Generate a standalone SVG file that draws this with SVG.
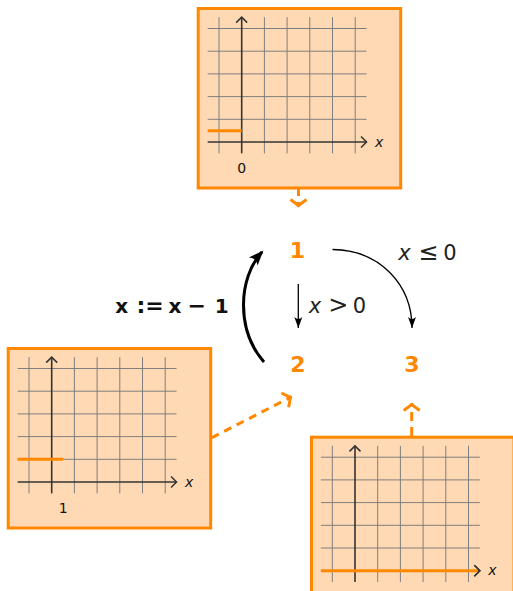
<svg xmlns="http://www.w3.org/2000/svg" xmlns:xlink="http://www.w3.org/1999/xlink" width="513" height="591" viewBox="0 0 513 591">
<style>
.box{fill:#ffd9b3;stroke:#ff8800;stroke-width:3}
.grid{stroke:#7f7f7f;stroke-width:1;fill:none}
.axis{stroke:#333;stroke-width:1.6;fill:none}
.val{stroke:#ff8800;stroke-width:3;fill:none}
.lbl{font-family:"DejaVu Sans",sans-serif;font-size:14px;fill:#111}
.node{font-family:"DejaVu Sans",sans-serif;font-weight:bold;font-size:22px;fill:#ff8800;text-anchor:middle}
.math{font-family:"DejaVu Sans",sans-serif;font-size:21px;fill:#222;text-anchor:middle}
.rel{font-size:24px}
.bmath{font-family:"DejaVu Sans",sans-serif;font-weight:bold;font-size:20px;fill:#111;text-anchor:middle}
.dash{stroke:#ff8800;stroke-width:3;fill:none;stroke-dasharray:8 6}
.edge{stroke:#000;stroke-width:1.3;fill:none}
</style>
<defs>
<marker id="ax" markerUnits="userSpaceOnUse" viewBox="-8 -7 10 14" markerWidth="10" markerHeight="14" refX="0" refY="0" orient="auto">
<path d="M-5.5,-5.5 L0,0 L-5.5,5.5" fill="none" stroke="#333" stroke-width="1.5"/>
</marker>
<marker id="chev" markerUnits="userSpaceOnUse" viewBox="-10 -10 14 20" markerWidth="14" markerHeight="20" refX="0" refY="0" orient="auto">
<path d="M-7.5,-8 L-1.5,0 L-7.5,8" fill="none" stroke="#ff8800" stroke-width="3"/>
</marker>
<marker id="thin" markerUnits="userSpaceOnUse" viewBox="-12 -5 14 10" markerWidth="14" markerHeight="10" refX="0" refY="0" orient="auto">
<path d="M0,0 L-11,-4 Q-7,0 -11,4 Z" fill="#000"/>
</marker>
<marker id="thick" markerUnits="userSpaceOnUse" viewBox="-16 -8 20 16" markerWidth="20" markerHeight="16" refX="0" refY="0" orient="auto">
<path d="M2,0 L-13,-6 Q-8,0 -13,6 Z" fill="#000"/>
</marker>
<g id="plot">
<rect class="box" x="-43.5" y="-133.5" width="202.5" height="179.5"/>
<path class="grid" d="M-22.7,11.35V-124.85M22.7,11.35V-124.85M45.4,11.35V-124.85M68.1,11.35V-124.85M90.8,11.35V-124.85M113.5,11.35V-124.85M-34.05,-22.7H124.85M-34.05,-45.4H124.85M-34.05,-68.1H124.85M-34.05,-90.8H124.85M-34.05,-113.5H124.85"/>
<path class="axis" d="M-34.05,0H124.85" marker-end="url(#ax)"/>
<path class="axis" d="M0,11.35V-124.85" marker-end="url(#ax)"/>
<text class="lbl" x="133.3" y="4.7" font-style="italic">x</text>
</g>
</defs>

<g id="box1" transform="translate(241.7,142)">
<use xlink:href="#plot"/>
<path class="val" d="M-34.05,-11.35H0"/>
<text class="lbl" x="0" y="31" text-anchor="middle">0</text>
</g>

<g id="box2" transform="translate(51.7,482)">
<use xlink:href="#plot"/>
<path class="val" d="M-34.05,-22.7H11.35"/>
<text class="lbl" x="11.6" y="31" text-anchor="middle">1</text>
</g>

<g id="box3" transform="translate(355,570.7)">
<use xlink:href="#plot"/>
<path class="val" d="M-34.05,0H123"/>
<path d="M119.35,-5.5 L124.85,0 L119.35,5.5" fill="none" stroke="#333" stroke-width="1.5"/>
</g>

<g id="n1"><text class="node" x="297.5" y="258">1</text></g>
<g id="n2"><text class="node" x="298" y="371.5">2</text></g>
<g id="n3"><text class="node" x="412" y="371.5">3</text></g>

<g id="connectors">
<path class="edge" d="M298.3,284 V328" marker-end="url(#thin)"/>
<path class="edge" d="M332.5,249.5 C380,250 412,285 412,328" marker-end="url(#thin)"/>
<path d="M264,362 C236,330 238,278 262,252" fill="none" stroke="#000" stroke-width="3" marker-end="url(#thick)"/>
<path class="dash" d="M298.5,188 V207" marker-end="url(#chev)"/>
<path class="dash" d="M411.7,436 V403" style="stroke-dasharray:9 6" marker-end="url(#chev)"/>
<path class="dash" d="M211.7,437.7 L291.7,396.7" marker-end="url(#chev)"/>
</g>

<g id="labels">
<text class="math" y="312.5"><tspan x="315" font-style="italic">x</tspan><tspan x="338.3" class="rel">&gt;</tspan><tspan x="359.5">0</tspan></text>
<text class="math" y="259.5"><tspan x="404.5" font-style="italic">x</tspan><tspan x="428.3" class="rel">≤</tspan><tspan x="450">0</tspan></text>
<text class="bmath" y="313.3"><tspan x="121.7">x</tspan><tspan x="150" font-size="22">:=</tspan><tspan x="175">x</tspan><tspan x="196.7" font-size="22">−</tspan><tspan x="221.7">1</tspan></text>
</g>
</svg>
